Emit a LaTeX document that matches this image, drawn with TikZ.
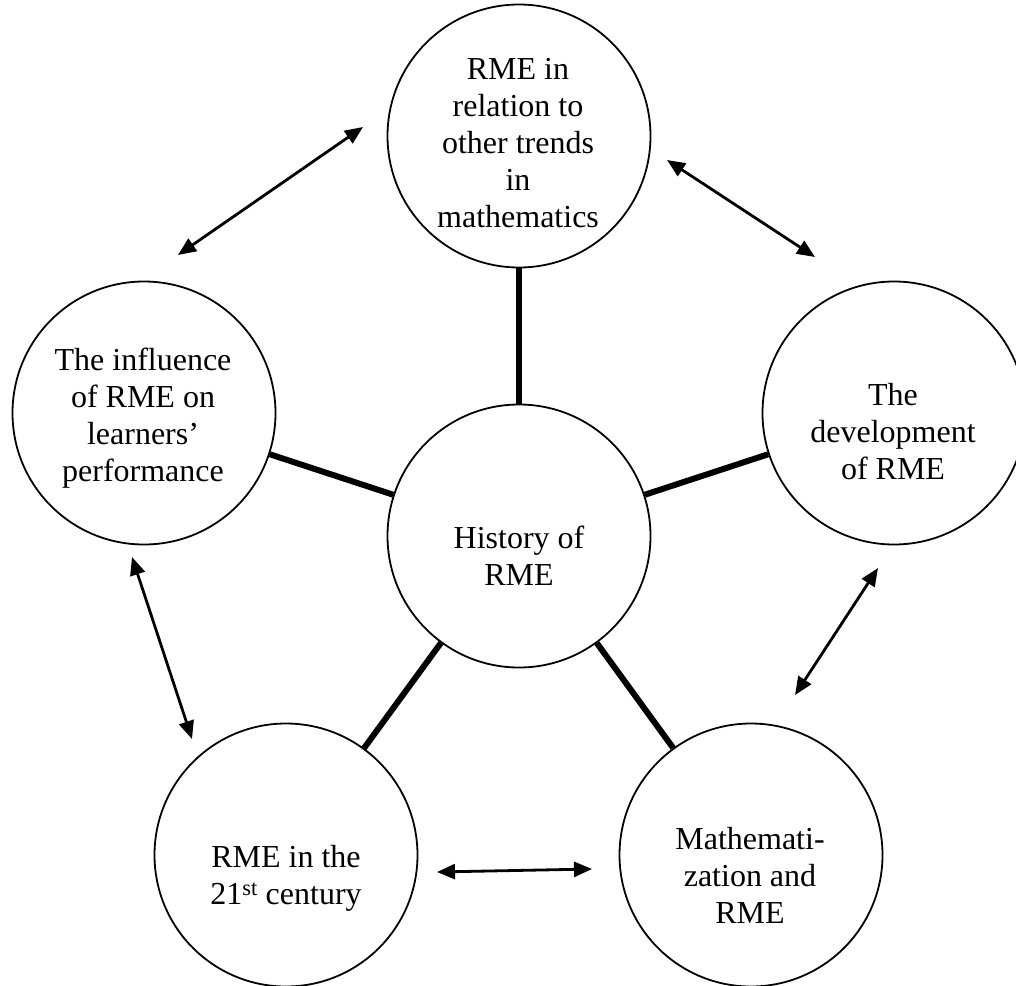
\documentclass[tikz,border=0pt]{standalone}
\usepackage{fontspec}
\setmainfont{Liberation Serif}
\usetikzlibrary{arrows.meta,calc}
\begin{document}
\begin{tikzpicture}[x=1pt,y=-1pt,
  bubble/.style={circle,draw,line width=1.8pt,minimum size=263pt,inner sep=0pt},
  txt/.style={align=center,inner sep=0pt,font=\fontsize{32}{37}\selectfont},
  spoke/.style={line width=6pt},
  link/.style={line width=2.8pt,{Triangle[length=18pt,width=15pt]}-{Triangle[length=18pt,width=15pt]}}]
\useasboundingbox (0,0) rectangle (1016,985);
\clip (0,0) rectangle (1016,985);

% circles
\node[bubble] (hub) at (519,536) {};
\node[bubble] (top) at (519,136) {};
\node[bubble] (lft) at (144,413) {};
\node[bubble] (rgt) at (894,413) {};
\node[bubble] (bl)  at (286,855) {};
\node[bubble] (br)  at (751,855) {};

% labels
\node[txt] (hub-t) at (519,556) {History of\\RME};
\node[txt] (top-t) at (518,143) {RME in\\relation to\\other trends\\in\\mathematics};
\node[txt] (lft-t) at (143,418) {The influence\\of RME on\\learners’\\performance};
\node[txt] (rgt-t) at (893,432) {The\\development\\of RME};
\node[txt] (bl-t)  at (286,878) {RME in the\\21\textsuperscript{st} century};
\node[txt] (br-t)  at (750,875) {Mathemati-\\zation and\\RME};

% spokes from the hub
\foreach \n in {top,lft,rgt,bl,br}
  \draw[spoke] (hub) -- (\n);

% double-headed arrows between neighbours
\coordinate (a1) at (178,255);
\coordinate (a2) at (363,127);
\coordinate (b1) at (667,160);
\coordinate (b2) at (815,257);
\coordinate (c1) at (132,557);
\coordinate (c2) at (192,739);
\coordinate (d1) at (878,568);
\coordinate (d2) at (795,695);
\coordinate (e1) at (437,872);
\coordinate (e2) at (592,869);
\draw[link] (a1) -- (a2);
\draw[link] (b1) -- (b2);
\draw[link] (c1) -- (c2);
\draw[link] (d1) -- (d2);
\draw[link] (e1) -- (e2);
\end{tikzpicture}
\end{document}
